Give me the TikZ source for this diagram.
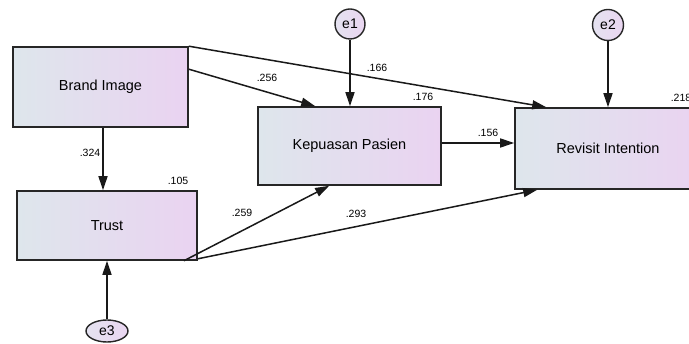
\documentclass[tikz,border=0pt]{standalone}
\usepackage{fontspec}
\setmainfont{Liberation Sans}
\usetikzlibrary{arrows.meta,calc,shapes.geometric}
\definecolor{boxL}{HTML}{DEE6EC}
\definecolor{boxR}{HTML}{EAD3F1}
\definecolor{eL}{HTML}{E4E2F0}
\definecolor{eR}{HTML}{EAD6F1}
\tikzset{
  var/.style={draw=black!85, line width=1.6pt, left color=boxL, right color=boxR, inner sep=0pt, font=\fontsize{14.5}{16}\selectfont},
  err/.style={draw=black!85, line width=1.4pt, left color=eL, right color=eR, inner sep=0pt, font=\fontsize{14}{16}\selectfont},
  path/.style={line width=1.5pt, draw=black!90, -{Triangle[length=14pt,width=9pt]}},
  coef/.style={font=\fontsize{10.5}{12}\selectfont, inner sep=0pt}
}
\begin{document}
\begin{tikzpicture}[x=1pt,y=-1pt]
\useasboundingbox (0,0) rectangle (689,344);
\clip (0,0) rectangle (689,344);
\node[var, minimum width=175pt, minimum height=80pt] (BI) at (100.5,87) {Brand Image};
\node[var, minimum width=180pt, minimum height=69pt] (T) at (107,225.5) {Trust};
\node[var, minimum width=183pt, minimum height=78pt] (KP) at (349.5,146) {Kepuasan Pasien};
\node[var, minimum width=186pt, minimum height=81pt] (RI) at (608,148.5) {Revisit Intention};
\node[err, circle, minimum size=30pt] (e1) at (350,24) {e1};
\node[err, circle, minimum size=31pt] (e2) at (608,25) {e2};
\node[err, ellipse, minimum width=42pt, minimum height=22pt] (e3) at (107,331) {e3};
% paths
\draw[path] ($(BI.south)+(2.5,0)$) -- ($(T.north)+(-4,0)$);
\draw[path] ($(BI.north east)+(0,23)$) -- ($(KP.north west)+(58,0)$);
\draw[path] (BI.north east) -- ($(RI.north west)+(32,0)$);
\draw[path] ($(T.south east)+(-14,0)$) -- ($(KP.south west)+(72,0)$);
\draw[path] ($(T.south east)+(0,-2)$) -- ($(RI.south west)+(23,0)$);
\draw[path] ($(KP.east)+(0,-3)$) -- ($(RI.west)+(0,-5.5)$);
\draw[path] (e1.south) -- (KP.north -| e1.south);
\draw[path] (e2.south) -- (RI.north -| e2.south);
\draw[path] (e3.north) -- (T.south -| e3.north);
% coefficients
\node[coef] (c1) at (90,153) {.324};
\node[coef] (c2) at (267,78) {.256};
\node[coef] (c3) at (377,68) {.166};
\node[coef] (c4) at (423,97) {.176};
\node[coef] (c5) at (488,133) {.156};
\node[coef] (c6) at (681,98) {.218};
\node[coef] (c7) at (178,181) {.105};
\node[coef] (c8) at (242,213) {.259};
\node[coef] (c9) at (356,214) {.293};
\end{tikzpicture}
\end{document}
